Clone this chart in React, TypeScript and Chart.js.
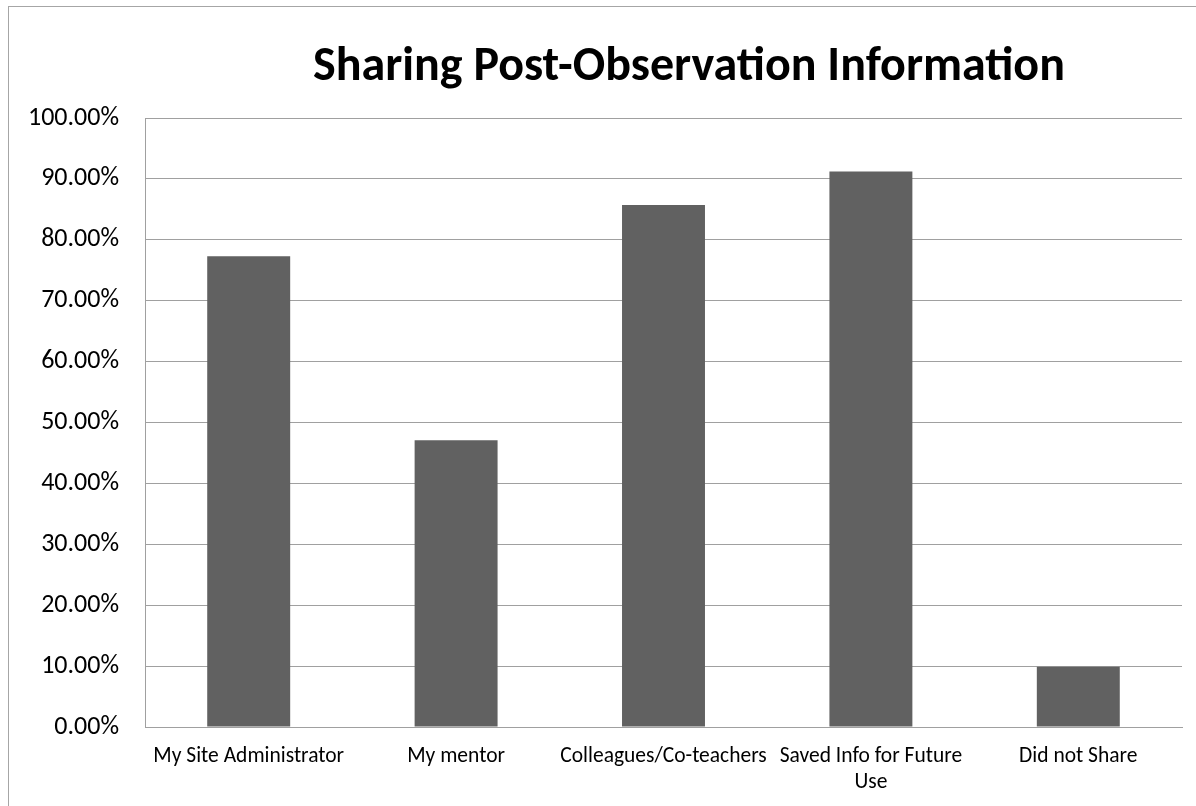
import React, { useEffect, useRef } from 'react';
import { Chart, registerables } from 'chart.js';

Chart.register(...registerables);

const TITLE = 'Sharing Post-Observation Information';
const categories: (string | string[])[] = [
  'My Site Administrator',
  'My mentor',
  'Colleagues/Co-teachers',
  ['Saved Info for Future', 'Use'],
  'Did not Share',
];
const values: number[] = [77.3, 47.1, 85.7, 91.2, 9.9];
const yMin = 0;
const yMax = 100;
const yStep = 10;

const FONT = 'Carlito, Calibri, Lato, sans-serif';

const titlePlugin = {
  id: 'customTitle',
  afterDraw(chart: any) {
    const ctx = chart.ctx;
    ctx.save();
    ctx.font = `bold 48px ${FONT}`;
    ctx.fillStyle = '#000000';
    ctx.textAlign = 'center';
    ctx.textBaseline = 'alphabetic';
    ctx.fillText(TITLE, 689, 80);
    ctx.restore();
  },
};

export default function App() {
  const ref = useRef<HTMLCanvasElement | null>(null);

  useEffect(() => {
    if (!ref.current) return;
    const chart = new Chart(ref.current, {
      type: 'bar',
      data: {
        labels: categories,
        datasets: [
          {
            data: values,
            backgroundColor: '#616161',
            borderWidth: 0,
            barPercentage: 0.4,
            categoryPercentage: 1,
          },
        ],
      },
      options: {
        responsive: false,
        animation: false,
        devicePixelRatio: 1,
        layout: { padding: { left: 0, right: 14, top: 118, bottom: 0 } },
        plugins: {
          legend: { display: false },
          title: { display: false },
          tooltip: { enabled: false },
        },
        scales: {
          x: {
            afterFit: (s: any) => {
              s.height = 79;
            },
            grid: { display: false, drawTicks: false },
            border: { display: true, color: '#a0a0a0', width: 1 },
            ticks: {
              color: '#000000',
              font: { family: FONT, size: 21.5, lineHeight: 1.21 },
              padding: 17,
              maxRotation: 0,
              autoSkip: false,
            },
          },
          y: {
            min: yMin,
            max: yMax,
            afterFit: (s: any) => {
              s.width = 145;
            },
            grid: { color: '#a0a0a0', lineWidth: 1, drawTicks: false },
            border: { display: true, color: '#a0a0a0', width: 1 },
            ticks: {
              stepSize: yStep,
              color: '#000000',
              font: { family: FONT, size: 26 },
              padding: 26,
              callback: (v: any) => Number(v).toFixed(2) + '%',
            },
          },
        },
      },
      plugins: [titlePlugin],
    });
    return () => chart.destroy();
  }, []);

  return (
    <div
      style={{
        position: 'fixed',
        left: 0,
        top: 0,
        width: 1196,
        height: 806,
        overflow: 'hidden',
        background: '#ffffff',
      }}
    >
      <div
        style={{
          position: 'absolute',
          left: 8,
          top: 6,
          width: 1400,
          height: 1000,
          border: '1px solid #a6a6a6',
        }}
      />
      <canvas
        ref={ref}
        width={1196}
        height={806}
        style={{ position: 'absolute', left: 0, top: 0, width: 1196, height: 806 }}
      />
    </div>
  );
}
